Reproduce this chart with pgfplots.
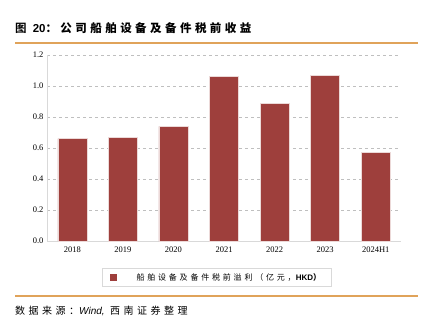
\documentclass[border=0pt]{standalone}
\usepackage{pgfplots}
\pgfplotsset{compat=1.18}
\usepackage{fontspec}
\setmainfont{Liberation Serif}
\newfontfamily\cjk{Noto Sans CJK SC}
\newfontfamily\cjksp[LetterSpace=35]{Noto Sans CJK SC}
\newfontfamily\cjkbsp[LetterSpace=30]{Noto Sans CJK SC Bold}
\newfontfamily\sans{Liberation Sans}
\definecolor{barred}{HTML}{9E3F3C}
\definecolor{rule}{HTML}{E0A35A}
\definecolor{gridc}{HTML}{BFBFBF}
\definecolor{axc}{HTML}{D9D9D9}
\begin{document}
\begin{tikzpicture}[x=1pt,y=1pt]
\path (0,0) rectangle (433,324);
\node[anchor=west,inner sep=0] at (15,296) {\fontsize{11.5}{12}\selectfont\cjkbsp 图\ \sans\bfseries 20\cjkbsp ：公司船舶设备及备件税前收益};
\draw[rule,line width=1.2pt] (15,281) -- (418,281);
\draw[rule,line width=1.2pt] (15,28) -- (418,28);
\node[anchor=west,inner sep=0] at (15,13) {\fontsize{10}{12}\selectfont\cjksp 数据来源：\sans\itshape Wind,\ \ \cjksp 西南证券整理};
\begin{axis}[
  at={(47pt,83pt)}, anchor=south west,
  scale only axis, width=354pt, height=186pt,
  xmin=-0.5, xmax=6.5, ymin=0, ymax=1.2,
  xtick={0,...,6},
  xticklabels={2018,2019,2020,2021,2022,2023,2024H1},
  ytick={0,0.2,...,1.2},
  yticklabel style={/pgf/number format/.cd,fixed,fixed zerofill,precision=1},
  /pgf/number format/assume math mode=true,
  ticklabel style={font=\fontsize{8.5}{10}\selectfont},
  axis x line*=bottom, axis y line*=left,
  axis line style={axc, line width=0.8pt},
  x axis line style={-}, y axis line style={-},
  major tick length=0pt,
  ymajorgrids, grid style={gridc, dashed, line width=0.6pt},
  xticklabel shift=2pt,
  legend style={at={(0.479,-0.145)}, anchor=north, draw=axc, line width=0.8pt,
    font=\fontsize{8}{10}\selectfont\cjksp, inner xsep=8pt, inner ysep=3pt},
  legend image code/.code={\fill[barred] (0pt,-3pt) rectangle (6pt,3pt);},
  legend cell align=left,
]
\addplot[ybar, bar width=29pt, fill=barred, draw=white!80!barred, line width=0.5pt] coordinates {
(0,0.66) (1,0.67) (2,0.74) (3,1.06) (4,0.89) (5,1.07) (6,0.57)};
\addlegendentry{\hspace{18pt}船舶设备及备件税前溢利（亿元，\sans\bfseries HKD\cjksp ）}
\end{axis}
\end{tikzpicture}
\end{document}
